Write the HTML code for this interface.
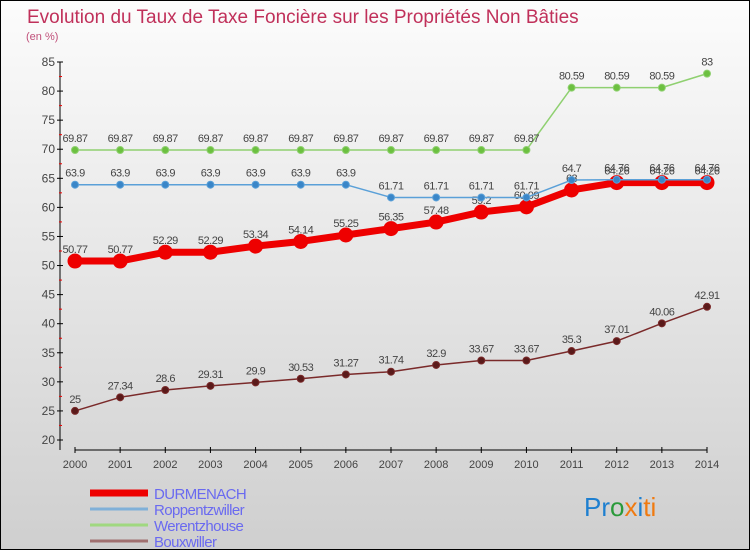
<!DOCTYPE html>
<html><head><meta charset="utf-8"><style>
body{margin:0}
#c{width:750px;height:550px;position:relative;box-sizing:border-box;border:1px solid #000;background:linear-gradient(#fcfcfc,#cfcfcf);font-family:"Liberation Sans",sans-serif;overflow:hidden}
</style></head><body>
<div id="c">
<svg id="s" width="750" height="550" style="position:absolute;left:-1px;top:-1px">
<text x="27" y="23" font-size="19" fill="#c0305a">Evolution du Taux de Taxe Foncière sur les Propriétés Non Bâties</text>
<text x="26" y="40" font-size="11" fill="#c0507a">(en %)</text>
<g><text x="584" y="516" font-size="26"><tspan fill="#1e7fd0">Pr</tspan><tspan fill="#2a9a3a">o</tspan><tspan fill="#f07a10">x</tspan><tspan fill="#1e7fd0">i</tspan><tspan fill="#f07a10">ti</tspan></text></g>
</svg>
</div>
<script>
const years=[2000,2001,2002,2003,2004,2005,2006,2007,2008,2009,2010,2011,2012,2013,2014];
const durmenach=[50.77,50.77,52.29,52.29,53.34,54.14,55.25,56.35,57.48,59.2,60.09,63,64.26,64.26,64.26];
const roppentzwiller=[63.9,63.9,63.9,63.9,63.9,63.9,63.9,61.71,61.71,61.71,61.71,64.7,64.76,64.76,64.76];
const werentzhouse=[69.87,69.87,69.87,69.87,69.87,69.87,69.87,69.87,69.87,69.87,69.87,80.59,80.59,80.59,83];
const bouxwiller=[25,27.34,28.6,29.31,29.9,30.53,31.27,31.74,32.9,33.67,33.67,35.3,37.01,40.06,42.91];
const yTicks=[20,25,30,35,40,45,50,55,60,65,70,75,80,85];
const NS='http://www.w3.org/2000/svg',s=document.getElementById('s');
const X=i=>75+i*(707-75)/(years.length-1);
const Y=v=>440-(v-20)*(440-62)/65;
function el(t,a,p){const e=document.createElementNS(NS,t);for(const k in a)e.setAttribute(k,a[k]);(p||s).appendChild(e);return e;}
const ax=el('g',{});


el('line',{x1:60,y1:62,x2:60,y2:450,stroke:'#000'},ax);
el('line',{x1:75,y1:450,x2:707,y2:450,stroke:'#000'},ax);
yTicks.forEach(v=>{el('line',{x1:57,x2:63,y1:Y(v),y2:Y(v),stroke:'#000'},ax);
 if(v<85)el('line',{x1:59,x2:62,y1:Y(v+2.5),y2:Y(v+2.5),stroke:'#e00'},ax);
 const t=el('text',{x:55,y:Y(v)+4,'font-size':12,fill:'#444','text-anchor':'end'},ax);t.textContent=v;
 
 });
years.forEach((y,i)=>{el('line',{x1:X(i),x2:X(i),y1:447,y2:453,stroke:'#000'},ax);
 const t=el('text',{x:X(i),y:468,'font-size':11,fill:'#444','text-anchor':'middle'},ax);t.textContent=y;
 
 });
function series(name,data,col,w,r,fill){
 const g=el('g',{});
 
 
 el('polyline',{points:data.map((v,i)=>X(i)+','+Y(v)).join(' '),fill:'none',stroke:col,'stroke-width':w,'stroke-linejoin':'round'},g);
 data.forEach((v,i)=>{const c=el('circle',{cx:X(i),cy:Y(v),r:r,fill:fill,stroke:col,'stroke-width':1},g);
  
  
  const t=el('text',{x:X(i),y:Y(v)-8,'font-size':11,fill:'#444','text-anchor':'middle','letter-spacing':'-0.5'},g);t.textContent=v;
  
  });
}
series('bouxwiller',bouxwiller,'#7a2a2a',1.5,3.5,'#5a1a1a');
series('werentzhouse',werentzhouse,'#8fd070',1.5,3.5,'#6cc040');
series('durmenach',durmenach,'#ee0000',7,7,'#ee0000');
series('roppentzwiller',roppentzwiller,'#5aa0d8',1.5,3.5,'#3a86c8');
const leg=[['DURMENACH','#ee0000',7],['Roppentzwiller','#80b0d8',3],['Werentzhouse','#a0d880',3],['Bouxwiller','#a07070',3]];
leg.forEach((l,i)=>{const g=el('g',{});
 
 
 const y=493+i*16;
 el('line',{x1:90,x2:148,y1:y,y2:y,stroke:l[1],'stroke-width':l[2]},g);
 const t=el('text',{x:154,y:y+6,'font-size':15,fill:'#6a6af0','letter-spacing':'-0.6'},g);t.textContent=l[0];});
</script>
</body></html>
